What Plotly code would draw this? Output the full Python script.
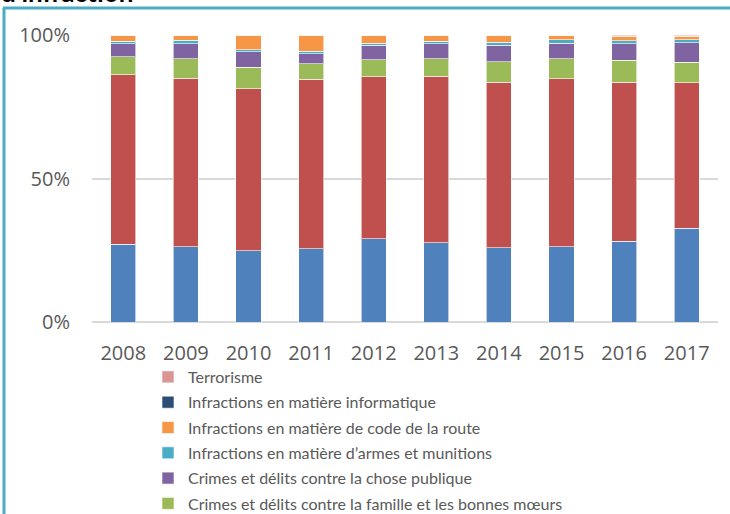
import plotly.graph_objects as go

years = ["2008", "2009", "2010", "2011", "2012", "2013", "2014", "2015", "2016", "2017"]

biens = [27.1, 26.2, 24.8, 25.5, 29.1, 27.6, 25.9, 26.3, 28.2, 32.6]
personnes = [59.1, 58.9, 56.5, 59.1, 56.4, 58.2, 57.8, 58.5, 55.4, 50.8]
famille = [6.4, 6.7, 7.6, 5.4, 5.9, 6.1, 7.0, 7.1, 7.6, 7.2]
chose_publique = [4.4, 5.3, 5.3, 3.5, 5.2, 5.2, 5.9, 5.4, 5.8, 6.7]
armes = [1.0, 1.1, 0.8, 0.9, 0.7, 0.9, 1.0, 1.1, 1.0, 1.1]
code_route = [2.0, 1.8, 5.0, 5.6, 2.7, 2.0, 2.4, 1.6, 1.7, 1.3]
informatique = [0.05, 0.05, 0.05, 0.05, 0.05, 0.05, 0.05, 0.05, 0.05, 0.05]
terrorisme = [0.05, 0.05, 0.05, 0.05, 0.05, 0.05, 0.05, 0.05, 0.3, 0.3]

series = [
    ("Crimes et délits contre les biens", biens, "#4F81BD", False),
    ("Crimes et délits contre les personnes", personnes, "#C0504D", False),
    ("Crimes et délits contre la famille et les bonnes mœurs", famille, "#9BBB59", True),
    ("Crimes et délits contre la chose publique", chose_publique, "#8064A2", True),
    ("Infractions en matière d’armes et munitions", armes, "#4BACC6", True),
    ("Infractions en matière de code de la route", code_route, "#F79646", True),
    ("Infractions en matière informatique", informatique, "#2C4D75", True),
    ("Terrorisme", terrorisme, "#D99694", True),
]

fig = go.Figure()
for i, (name, vals, color, show) in enumerate(series):
    fig.add_trace(go.Bar(
        x=years, y=vals, name=name, marker_color=color,
        marker_line=dict(color="rgba(255,255,255,0.6)", width=1),
        showlegend=show, legendgroup=f"g{i}", legendrank=100 - i,
    ))

PL, PR, PT, PB = 92, 12, 35, 192
W, H = 730, 514
ph = H - PT - PB
pw = W - PL - PR

def px_to_paper_x(x):
    return (x - PL) / pw

def px_to_paper_y(y):
    return (H - PB - y) / ph

fig.update_layout(
    width=W, height=H, autosize=False,
    barmode="stack", barnorm="percent", bargap=0.6,
    plot_bgcolor="white", paper_bgcolor="white",
    margin=dict(l=PL, r=PR, t=PT, b=PB, autoexpand=False),
    font=dict(family="Open Sans, sans-serif", color="#595959"),
    xaxis=dict(
        tickfont=dict(size=20, color="#595959"),
        showgrid=False, showline=False, ticks="", ticklabelstandoff=17,
    ),
    yaxis=dict(
        range=[0, 100], tickvals=[0, 50, 100], ticktext=["0%", "50%", "100%"],
        tickfont=dict(size=20, color="#595959"),
        showgrid=True, gridcolor="#d9d9d9", gridwidth=1.5,
        zeroline=True, zerolinecolor="#d9d9d9", zerolinewidth=1.5,
        ticks="", ticklabelstandoff=21,
    ),
    legend=dict(
        x=px_to_paper_x(148), y=px_to_paper_y(360), xanchor="left", yanchor="top",
        traceorder="grouped", tracegroupgap=1.5,
        font=dict(family="Lato, sans-serif", size=16, color="#595959"),
        bgcolor="rgba(0,0,0,0)",
    ),
    shapes=[
        dict(type="line", xref="paper", yref="paper",
             x0=px_to_paper_x(3), x1=px_to_paper_x(731),
             y0=px_to_paper_y(8), y1=px_to_paper_y(8),
             line=dict(color="#4BACC6", width=3)),
        dict(type="line", xref="paper", yref="paper",
             x0=px_to_paper_x(4), x1=px_to_paper_x(4),
             y0=px_to_paper_y(8), y1=px_to_paper_y(520),
             line=dict(color="#4BACC6", width=3)),
    ],
    annotations=[
        dict(text="<b>d’infraction</b>", xref="paper", yref="paper",
             x=px_to_paper_x(-1), y=px_to_paper_y(10), xanchor="left", yanchor="bottom",
             showarrow=False, font=dict(family="Lato, sans-serif", size=26, color="#000000")),
    ],
)

fig.write_html("out.html", config={"displayModeBar": False},
               post_script="document.body.style.margin='0px';")
